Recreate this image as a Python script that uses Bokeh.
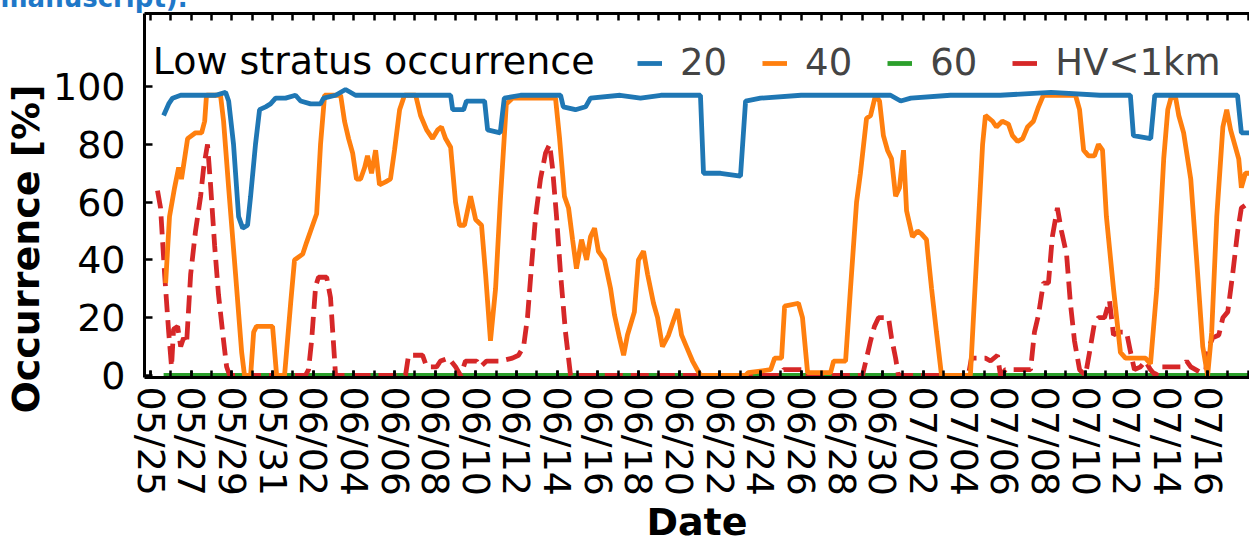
from bokeh.plotting import figure
from bokeh.models import Range1d, LinearAxis, FixedTicker, Legend, LegendItem, Label, Title
from bokeh.embed import file_html
from bokeh.resources import INLINE

# ---- data: time in days since 05/25 00:00, occurrence in % ----
tick_days = list(range(0, 53, 2))
tick_labels = ["05/25", "05/27", "05/29", "05/31", "06/02", "06/04", "06/06",
               "06/08", "06/10", "06/12", "06/14", "06/16", "06/18", "06/20",
               "06/22", "06/24", "06/26", "06/28", "06/30", "07/02", "07/04",
               "07/06", "07/08", "07/10", "07/12", "07/14", "07/16"]
minor_days = list(range(0, 55))
y_ticks = [0, 20, 40, 60, 80, 100]

t20 = [0.64, 0.89, 1.08, 1.48, 2.46, 3.2, 3.69, 3.84, 4.08, 4.33, 4.53, 4.77, 4.92,
       5.16, 5.36, 5.66, 5.9, 6.15, 6.64, 7.13, 7.38, 7.87, 8.36, 8.51, 9.1, 9.59,
       10.08, 12.3, 14.76, 14.86, 15.4, 15.54, 16.43, 16.58, 17.2, 17.4, 18.2,
       20.17, 20.3, 20.9, 21.4, 21.64, 23.1, 24.1, 25.1, 27.05, 27.2, 28.04,
       29.02, 29.27, 30.0, 32.0, 34.4, 36.4, 36.9, 37.4, 39.35, 41.8, 44.3, 46.7,
       48.2, 48.35, 49.2, 49.4, 51.65, 53.47, 53.66, 54.06]
occ20 = [90, 94, 96, 97, 97, 97, 98, 95, 80, 55, 51, 52, 62,
         80, 92, 93, 94, 96, 96, 97, 95, 94, 94, 96, 97, 99,
         97, 97, 97, 92, 92, 95, 95, 85, 84, 96, 97,
         97, 93, 92, 93, 96, 97, 96, 97, 97, 70, 70,
         69, 95, 96, 97, 97, 97, 95, 96, 97, 97, 98, 97,
         97, 83, 82, 97, 97, 97, 84, 84]

t40 = [0.74, 0.93, 1.18, 1.38, 1.52, 1.67, 1.82, 2.21, 2.51, 2.66, 2.75, 3.44, 3.59,
       3.84, 4.18, 4.48, 4.62, 4.92, 5.07, 5.21, 6.0, 6.2, 6.59, 6.89, 7.08, 7.48,
       7.67, 7.97, 8.17, 8.36, 8.56, 9.35, 9.54, 9.74, 9.94, 10.13, 10.33, 10.53,
       10.67, 10.87, 11.07, 11.26, 11.56, 11.8, 12.0, 12.25, 12.49, 13.04, 13.28,
       13.58, 13.87, 14.12, 14.31, 14.51, 14.76, 15.0, 15.2, 15.44, 15.74, 15.99,
       16.28, 16.48, 16.72, 16.97, 17.2, 17.5, 17.8, 19.92, 20.12, 20.36, 20.56,
       20.76, 20.95, 21.2, 21.45, 21.64, 21.84, 22.03, 22.33, 22.63, 22.82, 23.07,
       23.27, 23.46, 23.8, 24.0, 24.25, 24.45, 24.74, 24.94, 25.18, 25.48, 25.77,
       25.92, 26.12, 26.36, 26.66, 27.05, 29.27, 29.4, 30.5, 30.7, 31.04, 31.19,
       31.87, 32.07, 32.32, 33.45, 33.6, 34.19, 34.43, 34.73, 34.92, 35.22, 35.42,
       35.66, 35.86, 36.05, 36.25, 36.45, 36.65, 36.84, 37.04, 37.19, 37.48, 37.73,
       37.92, 38.17, 38.42, 38.66, 38.91, 40.33, 40.63, 40.93, 41.07, 41.42, 41.61,
       41.9, 42.2, 42.4, 42.65, 42.9, 43.14, 43.43, 43.68, 43.92, 45.5, 45.7, 45.9,
       46.14, 46.43, 46.63, 46.83, 47.02, 47.37, 47.71, 47.96, 48.94, 49.19, 49.5,
       49.84, 50.04, 50.23, 50.43, 50.58, 50.82, 51.17, 51.46, 51.76, 52.0, 52.2,
       52.45, 52.75, 52.94, 53.13, 53.33, 53.53, 53.66, 53.86, 54.06]
occ40 = [32, 55, 65, 72, 68, 75, 82, 84, 84, 88, 97, 97, 88,
         65, 35, 8, 0, 0, 15, 17, 17, 0, 0, 25, 40, 42,
         46, 52, 56, 80, 97, 97, 88, 82, 77, 68, 68, 72,
         76, 70, 78, 66, 67, 68, 78, 92, 97, 97, 90,
         85, 82, 85, 86, 82, 79, 60, 52, 52, 62, 54,
         52, 35, 12, 30, 60, 94, 96, 96, 82, 62, 58,
         47, 37, 47, 40, 48, 51, 43, 40, 30, 21, 13,
         7, 14, 22, 40, 43, 35, 25, 20, 10, 14, 20,
         23, 14, 10, 5, 0, 0, 1, 2, 6, 6, 24,
         25, 20, 1, 1, 5, 5, 30, 60, 70, 89, 90,
         97, 95, 83, 78, 75, 62, 65, 78, 57, 48, 50,
         49, 47, 30, 15, 0, 0, 40, 80, 90, 88, 86,
         88, 87, 83, 81, 82, 86, 88, 93, 97, 97, 92, 78,
         76, 76, 80, 78, 55, 30, 8, 6, 6, 4, 30,
         75, 92, 97, 96, 90, 84, 68, 40, 10, 0, 15,
         55, 86, 92, 85, 80, 75, 65, 70, 70]

t60 = [0.64, 10.0, 20.0, 30.0, 40.0, 50.0, 54.06]
occ60 = [0, 0, 0, 0, 0, 0, 0]

t_hv = [0.34, 0.49, 0.69, 0.89, 1.03, 1.13, 1.33, 1.48, 1.62, 1.77, 1.97, 2.21, 2.46,
        2.61, 2.8, 2.95, 3.15, 3.34, 3.59, 3.74, 3.89, 7.62, 7.77, 7.92, 8.12, 8.26,
        8.66, 8.85, 9.1, 12.54, 12.69, 13.38, 13.58, 14.07, 14.26, 14.66, 15.0,
        15.25, 15.49, 16.04, 16.23, 16.53, 17.2, 17.8, 18.1, 18.35, 18.54, 18.74,
        18.94, 19.18, 19.43, 19.63, 19.77, 19.97, 20.17, 20.41, 20.66, 30.99, 31.14,
        32.22, 32.37, 35.02, 35.22, 35.42, 35.61, 35.81, 36.3, 36.45, 36.65, 36.79,
        40.23, 40.38, 41.07, 41.32, 41.66, 41.81, 42.06, 43.29, 43.48, 43.68, 43.92,
        44.17, 44.36, 44.61, 44.81, 45.06, 45.25, 45.45, 45.7, 45.99, 46.19, 46.43,
        46.63, 46.93, 47.17, 47.37, 47.61, 48.01, 48.21, 48.4, 48.7, 48.94, 49.19,
        49.44, 49.69, 50.77, 50.97, 51.17, 51.66, 51.91, 52.06, 52.25, 52.55, 52.75,
        52.99, 53.23, 53.48, 53.66, 54.06]
occ_hv = [64, 58, 35, 15, 3, 16, 17, 10, 13, 11, 35, 50, 62,
          72, 80, 66, 45, 28, 12, 3, 0, 0, 2, 12, 31, 34,
          34, 27, 0, 0, 7, 7, 3, 3, 5, 6, 3,
          0, 5, 5, 3, 5, 5, 6, 7, 10, 20, 38,
          55, 68, 77, 80, 72, 55, 35, 15, 0, 0, 2,
          2, 0, 0, 6, 12, 17, 20, 20, 13, 6, 0,
          0, 6, 6, 5, 7, 0, 2, 2, 15, 21, 32,
          32, 48, 58, 50, 42, 25, 12, 2, 0, 8, 18,
          20, 20, 26, 14, 15, 15, 8, 2, 3, 5, 2,
          0, 3, 3, 5, 3, 1, 2, 10, 13, 14, 20,
          22, 35, 50, 58, 60]

series_labels = ["20", "40", "60", "HV<1km"]
colors = ["#1f77b4", "#ff7f0e", "#2ca02c", "#d62728"]

FONT = "DejaVu Sans"
TICK_SIZE = "38px"
HIDDEN_TOP = 22   # strip of canvas kept above the page edge (caption runs into it)

p = figure(width=1249, height=548 + HIDDEN_TOP, output_backend="svg",
           toolbar_location=None,
           x_range=Range1d(-0.3, 54.06), y_range=Range1d(-0.7, 125.3),
           min_border_left=144, min_border_right=0, min_border_top=13 + HIDDEN_TOP,
           min_border_bottom=171)
p.styles = {"margin-top": f"-{HIDDEN_TOP}px"}
p.outline_line_color = None
p.xgrid.visible = False
p.ygrid.visible = False
p.background_fill_color = "white"
p.border_fill_color = "white"

LW = 4.8
r60 = p.line(t60, occ60, color=colors[2], line_width=LW)
r_hv = p.line(t_hv, occ_hv, color=colors[3], line_width=LW, line_dash="18 8")
r40 = p.line(t40, occ40, color=colors[1], line_width=LW)
r20 = p.line(t20, occ20, color=colors[0], line_width=LW)
# solid stand-in (draws nothing) so the legend key of the dashed series is a short bar
nan = float("nan")
r_hv_key = p.line([nan], [nan], color=colors[3], line_width=LW)

# bottom axis: labelled every second day, small ticks every day
xa = p.xaxis[0]
xa.ticker = FixedTicker(ticks=tick_days, minor_ticks=minor_days)
xa.major_label_overrides = {d: s for d, s in zip(tick_days, tick_labels)}
xa.major_label_orientation = "vertical"
xa.major_label_text_font = FONT
xa.major_label_text_font_size = TICK_SIZE
xa.major_label_text_color = "black"
xa.major_label_standoff = 9
xa.axis_line_width = 3
xa.axis_line_color = "black"
xa.major_tick_in = 7
xa.major_tick_out = 0
xa.minor_tick_in = 7
xa.minor_tick_out = 0
xa.major_tick_line_width = 2.5
xa.minor_tick_line_width = 2.5
xa.axis_label = "Date"
xa.axis_label_text_font = FONT
xa.axis_label_text_font_size = "38px"
xa.axis_label_text_font_style = "bold"
xa.axis_label_text_color = "black"
xa.axis_label_standoff = 1

ya = p.yaxis[0]
ya.ticker = FixedTicker(ticks=y_ticks)
ya.major_label_text_font = FONT
ya.major_label_text_font_size = TICK_SIZE
ya.major_label_text_color = "black"
ya.major_label_standoff = 19
ya.axis_line_width = 3
ya.axis_line_color = "black"
ya.major_tick_in = 8
ya.major_tick_out = 0
ya.minor_tick_line_color = None
ya.major_tick_line_width = 2.5

# top spine with inward day ticks only
top = LinearAxis(ticker=FixedTicker(ticks=[], minor_ticks=minor_days),
                 axis_line_width=3, major_tick_out=0, major_tick_in=0,
                 minor_tick_in=7, minor_tick_out=0, minor_tick_line_width=2.5,
                 major_label_standoff=0)
p.add_layout(top, "above")

# y-axis title, set lower than the frame centre
p.add_layout(Title(text="Occurrence [%]", align="left", offset=-36,
                   vertical_align="middle", standoff=2,
                   text_font=FONT, text_font_size="38px", text_font_style="bold",
                   text_color="black"), "left")

# legend with its heading to the left
p.add_layout(Label(x=0.1, y=109.0, text="Low stratus occurrence",
                   text_font=FONT, text_font_size="38px",
                   text_align="left", text_baseline="middle", text_color="black"))
legend = Legend(items=[LegendItem(label=series_labels[0], renderers=[r20]),
                       LegendItem(label=series_labels[1], renderers=[r40]),
                       LegendItem(label=series_labels[2], renderers=[r60]),
                       LegendItem(label=series_labels[3], renderers=[r_hv_key])],
                orientation="horizontal", location=(493, 293),
                label_text_font=FONT, label_text_font_size="37px",
                label_standoff=18, glyph_width=25, glyph_height=30,
                label_height=30, spacing=35, padding=0, margin=0,
                border_line_color=None, background_fill_alpha=0)
p.add_layout(legend)

# caption text running in above the figure
p.add_layout(Title(text="manuscript).", align="left", offset=-144,
                   vertical_align="bottom", standoff=1,
                   text_font=FONT, text_font_size="26px", text_font_style="bold",
                   text_color="#1f78c8"), "above")

open("out.html", "w").write(file_html(p, INLINE))
